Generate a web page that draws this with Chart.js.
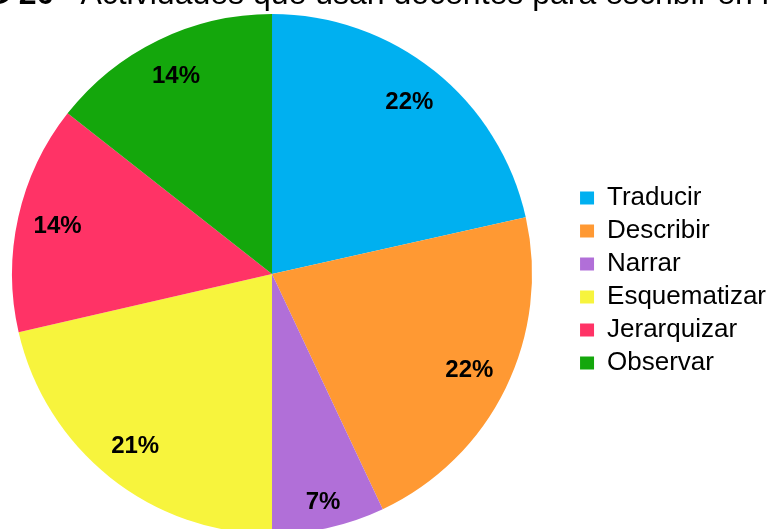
<!DOCTYPE html>
<html>
<head>
<meta charset="utf-8">
<script src="https://cdn.jsdelivr.net/npm/chart.js@4/dist/chart.umd.min.js"></script>
<style>
  body { margin: 0; background: #fff; }
  #wrap { position: relative; width: 771px; height: 529px; overflow: hidden; background: #fff; }
  #title {
    position: absolute; left: -15px; top: -23px; white-space: nowrap; z-index: 2;
    font-family: 'Liberation Sans', Arial, sans-serif; font-size: 32px; line-height: 32px; color: #000;
  }
  #title b { margin-right: 26px; }
  #box { position: absolute; left: -29px; top: 0; width: 805px; height: 529px; }
</style>
</head>
<body>
<div id="wrap">
  <div id="title"><b>G 20</b>Actividades que usan docentes para escribir en l</div>
  <div id="box"><canvas id="chart"></canvas></div>
</div>
<script>
const categories = ['Traducir', 'Describir', 'Narrar', 'Esquematizar', 'Jerarquizar', 'Observar'];
const shares = [21.5, 21.5, 7.0, 21.4, 14.2, 14.4];
const sliceColors = ['#00B0F0', '#FF9933', '#B16FD8', '#F7F43D', '#FF3366', '#14A70C'];

const FONT = "'Liberation Sans', Arial, sans-serif";
Chart.defaults.font.family = FONT;
Chart.defaults.color = '#000';

// % labels inside slices
const pctLabels = {
  id: 'pctLabels',
  afterDatasetsDraw(chart) {
    const ctx = chart.ctx;
    const data = chart.data.datasets[0].data;
    const total = data.reduce((a, b) => a + b, 0);
    ctx.save();
    ctx.font = `bold 24px ${FONT}`;
    ctx.fillStyle = '#000';
    ctx.textAlign = 'center';
    ctx.textBaseline = 'middle';
    chart.getDatasetMeta(0).data.forEach((arc, i) => {
      const { x, y, startAngle, endAngle, outerRadius } = arc.getProps(['x', 'y', 'startAngle', 'endAngle', 'outerRadius'], true);
      const pct = +(data[i] / total * 100).toFixed(1);
      const mid = (startAngle + endAngle) / 2;
      const r = outerRadius * (pct < 10 ? 0.9 : 0.845);
      ctx.fillText(`${Math.round(pct)}%`, x + Math.cos(mid) * r, y + Math.sin(mid) * r);
    });
    ctx.restore();
  }
};

new Chart(document.getElementById('chart'), {
  type: 'pie',
  data: {
    labels: categories,
    datasets: [{
      data: shares,
      backgroundColor: sliceColors,
      borderWidth: 0,
      radius: 260,
      clip: false
    }]
  },
  options: {
    responsive: true,
    maintainAspectRatio: false,
    animation: false,
    layout: { padding: { left: 0, right: 0, top: 19, bottom: 0 } },
    plugins: {
      tooltip: { enabled: false },
      legend: {
        position: 'right',
        align: 'center',
        // empty title only nudges the items down a little
        title: { display: true, text: ' ', padding: 0, font: { size: 13, lineHeight: 1 } },
        labels: {
          boxWidth: 14,
          boxHeight: 13,
          padding: 7,
          color: '#000',
          font: { size: 26 }
        }
      }
    }
  },
  plugins: [pctLabels]
});
</script>
</body>
</html>
